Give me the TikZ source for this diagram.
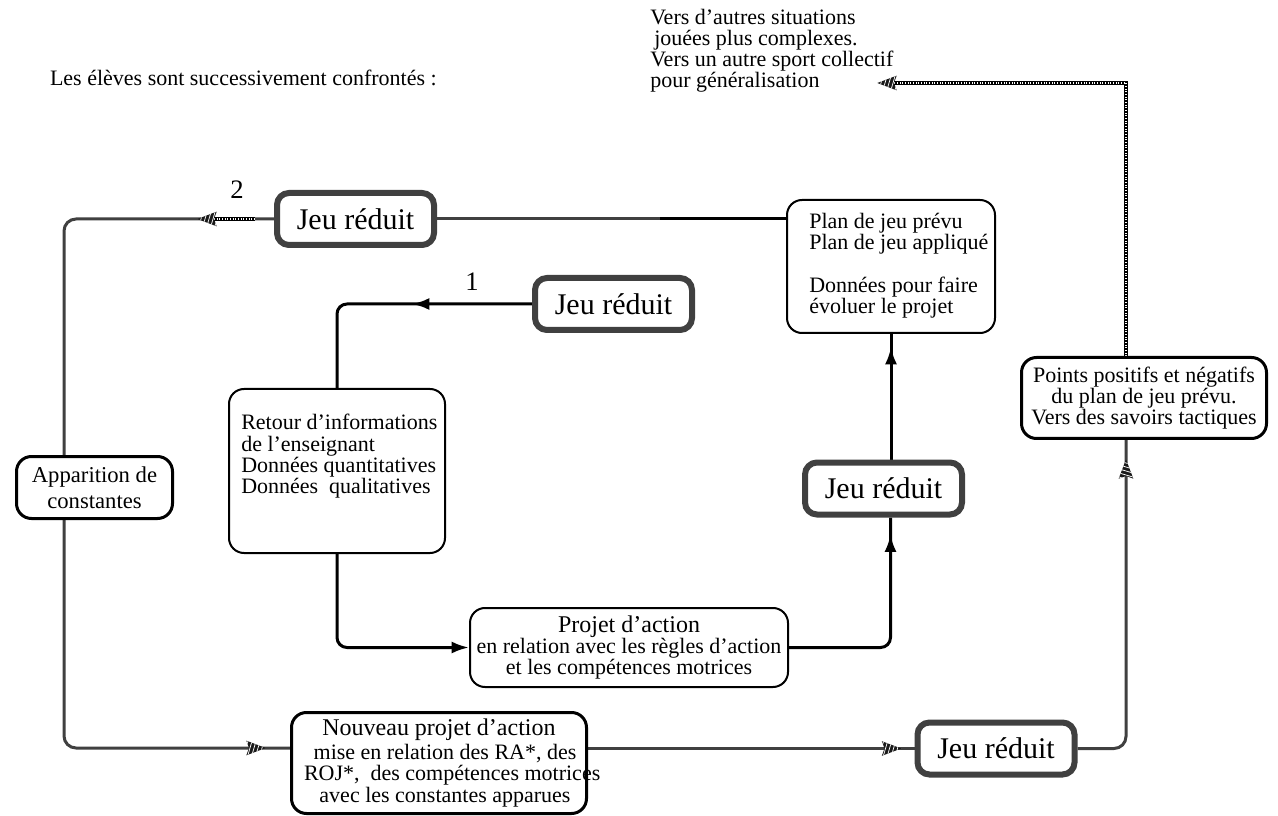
\documentclass[tikz,border=0pt]{standalone}
\usepackage{fontspec}
\setmainfont{Liberation Serif}
\usetikzlibrary{arrows.meta,decorations.markings,backgrounds}
\newdimen\pxu
\pxu=0.75pt
\newcommand\txtbody{\fontsize{16.5pt}{16pt}\selectfont}
\newcommand\txttitle{\fontsize{18pt}{18pt}\selectfont}
\newcommand\txtjeu{\fontsize{22.5pt}{24pt}\selectfont}
\newcommand\txtnum{\fontsize{20pt}{20pt}\selectfont}
\definecolor{linegray}{HTML}{404040}
\definecolor{tipgray}{HTML}{1a1a1a}

% striped arrow head, drawn in the local frame of a marking (x along the path)
\newcommand\hatchtip{%
  \begin{scope}[sharp corners]
    \clip (0.5pt,0pt) -- (-14pt,5.5pt) -- (-12pt,0pt) -- (-14pt,-5.5pt) -- cycle;
    \fill[tipgray] (-15pt,-6pt) rectangle (1pt,6pt);
    \foreach \k in {-16,-13,...,1}
      \draw[white, line width=0.55pt] (\k*1pt,-6pt) -- (\k*1pt+3.5pt,6pt);
  \end{scope}}

\tikzset{
  jeu/.style={draw=linegray, line width=4.5pt, rounded corners=12\pxu, fill=white,
    minimum width=157\pxu, minimum height=52\pxu, inner sep=0pt, font=\txtjeu},
  thinbox/.style={draw=black, line width=1.5pt, rounded corners=15\pxu, fill=white, inner sep=0pt},
  boldbox/.style={draw=black, line width=2.25pt, rounded corners=15\pxu, fill=white, inner sep=0pt},
  plain/.style={inner sep=0pt, font=\txtbody},
  blackline/.style={draw=black, line width=2.25pt, rounded corners=10\pxu},
  grayline/.style={draw=linegray, line width=2.25pt, rounded corners=12\pxu},
  rope/.style={draw=black, line width=3pt,
    postaction={draw=white, line width=0.9pt, dash pattern=on 0.5pt off 1.5pt}},
  solidtip/.style={-{Latex[length=13pt,width=9pt]}},
  midtip/.style={postaction={decorate}, decoration={markings,
    mark=at position #1 with {\arrow{Latex[length=13pt,width=9pt]}}}},
  ropetip/.style={postaction={decorate}, decoration={markings,
    mark=at position #1 with {\hatchtip}}},
}

\begin{document}
\begin{tikzpicture}[x=0.75pt, y=-0.75pt]
\useasboundingbox (0,0) rectangle (1278,816);

% free text
\node[plain, anchor=east] (intro) at (437,78) {Les élèves sont successivement confrontés :};
\node[plain, anchor=north west, align=left, font=\fontsize{16.5pt}{15.75pt}\selectfont] (suite) at (650,9)
  {Vers d'autres situations\\\hspace*{4\pxu}jouées plus complexes.\\Vers un autre sport collectif\\pour généralisation};
\node[font=\txtnum, inner sep=0pt] (n1) at (472,282) {1};
\node[font=\txtnum, inner sep=0pt] (n2) at (237,190) {2};

% game boxes
\node[jeu] (J2) at (355.5,219) {Jeu réduit};
\node[jeu] (J1) at (613.5,304) {Jeu réduit};
\node[jeu] (JM) at (883.5,488.5) {Jeu réduit};
\node[jeu] (JB) at (996,748.5) {Jeu réduit};

% text boxes
\node[thinbox, minimum width=208\pxu, minimum height=133\pxu] (Plan) at (891,266.5) {};
\node[plain, anchor=north west, align=left] (PlanTxt) at (809,213)
  {Plan de jeu prévu\\Plan de jeu appliqué\\[16pt]Données pour faire\\évoluer le projet};

\node[boldbox, minimum width=245\pxu, minimum height=81\pxu, align=center, font=\txtbody] (Points) at (1144,398)
  {Points positifs et négatifs\\du plan de jeu prévu.\\Vers des savoirs tactiques};

\node[thinbox, minimum width=216\pxu, minimum height=164\pxu] (Retour) at (337,471) {};
\node[plain, anchor=north west, align=left] (RetourTxt) at (241,414)
  {Retour d'informations\\de l'enseignant\\Données quantitatives\\Données\ \ qualitatives};

\node[boldbox, minimum width=156\pxu, minimum height=62\pxu, align=center,
  font=\fontsize{17pt}{19.5pt}\selectfont] (App) at (94.5,487.5) {Apparition de\\constantes};

\node[thinbox, minimum width=318\pxu, minimum height=79\pxu, align=center, font=\txtbody] (Projet) at (629,647.5)
  {{\txttitle Projet d'action}\\en relation avec les règles d'action\\et les compétences motrices};

\node[boldbox, minimum width=295\pxu, minimum height=101\pxu, align=center, font=\txtbody] (Nouveau) at (439,763)
  {{\txttitle Nouveau projet d'action}\\[2pt]\hspace*{12\pxu}mise en relation des RA*, des\\
   \makebox[270\pxu][l]{ROJ*,\ \ des compétences motrices}\\\hspace*{12\pxu}avec les constantes apparues};

% route points
\coordinate (LT) at (64,219);
\coordinate (LB) at (64,748);
\coordinate (RX) at (1126,83);
\coordinate (TT) at (878,83);
\coordinate (PJ) at (660,219);
\coordinate (H1) at (214,219);
\coordinate (H2) at (255,219);

\begin{scope}[on background layer]
  \fill[white] (0,0) rectangle (1278,816);
  % inner loop
  \draw[blackline, midtip=90pt] (J1.west) -| (Retour.north);
  \draw[blackline, solidtip] (Retour.south) |- (Projet.west);
  \draw[blackline, midtip=-12.75pt] (Projet.east) -| ([xshift=7\pxu]JM.south);
  \draw[blackline, midtip=-9.75pt] (JM.north -| Plan.south) -- (Plan.south);
  % outer loop
  \draw[grayline] (J2.east) -- (J2.east -| Plan.west);
  \draw[blackline] (PJ) -- (PJ -| Plan.west);
  \draw[grayline] (J2.west) -- (LT) -- (LB) -- (LB -| Nouveau.west);
  \draw[rope] (H1) -- (H2);
  \path[postaction={decorate}, decoration={markings,
      mark=at position 57pt with {\hatchtip},
      mark=at position -18.75pt with {\hatchtip}}]
    (J2.west) -- (LT) -- (LB) -- (LB -| Nouveau.west);
  \draw[grayline, ropetip=-10.5pt] (Nouveau.east |- JB.west) -- (JB.west);
  \draw[grayline, ropetip=-15pt] (JB.east) -| (RX |- Points.south);
  \draw[rope, shorten >=9\pxu] (RX |- Points.north) -- (RX) -- (TT);
  \path[ropetip=1] (RX |- Points.north) -- (RX) -- (TT);
\end{scope}
\end{tikzpicture}
\end{document}
